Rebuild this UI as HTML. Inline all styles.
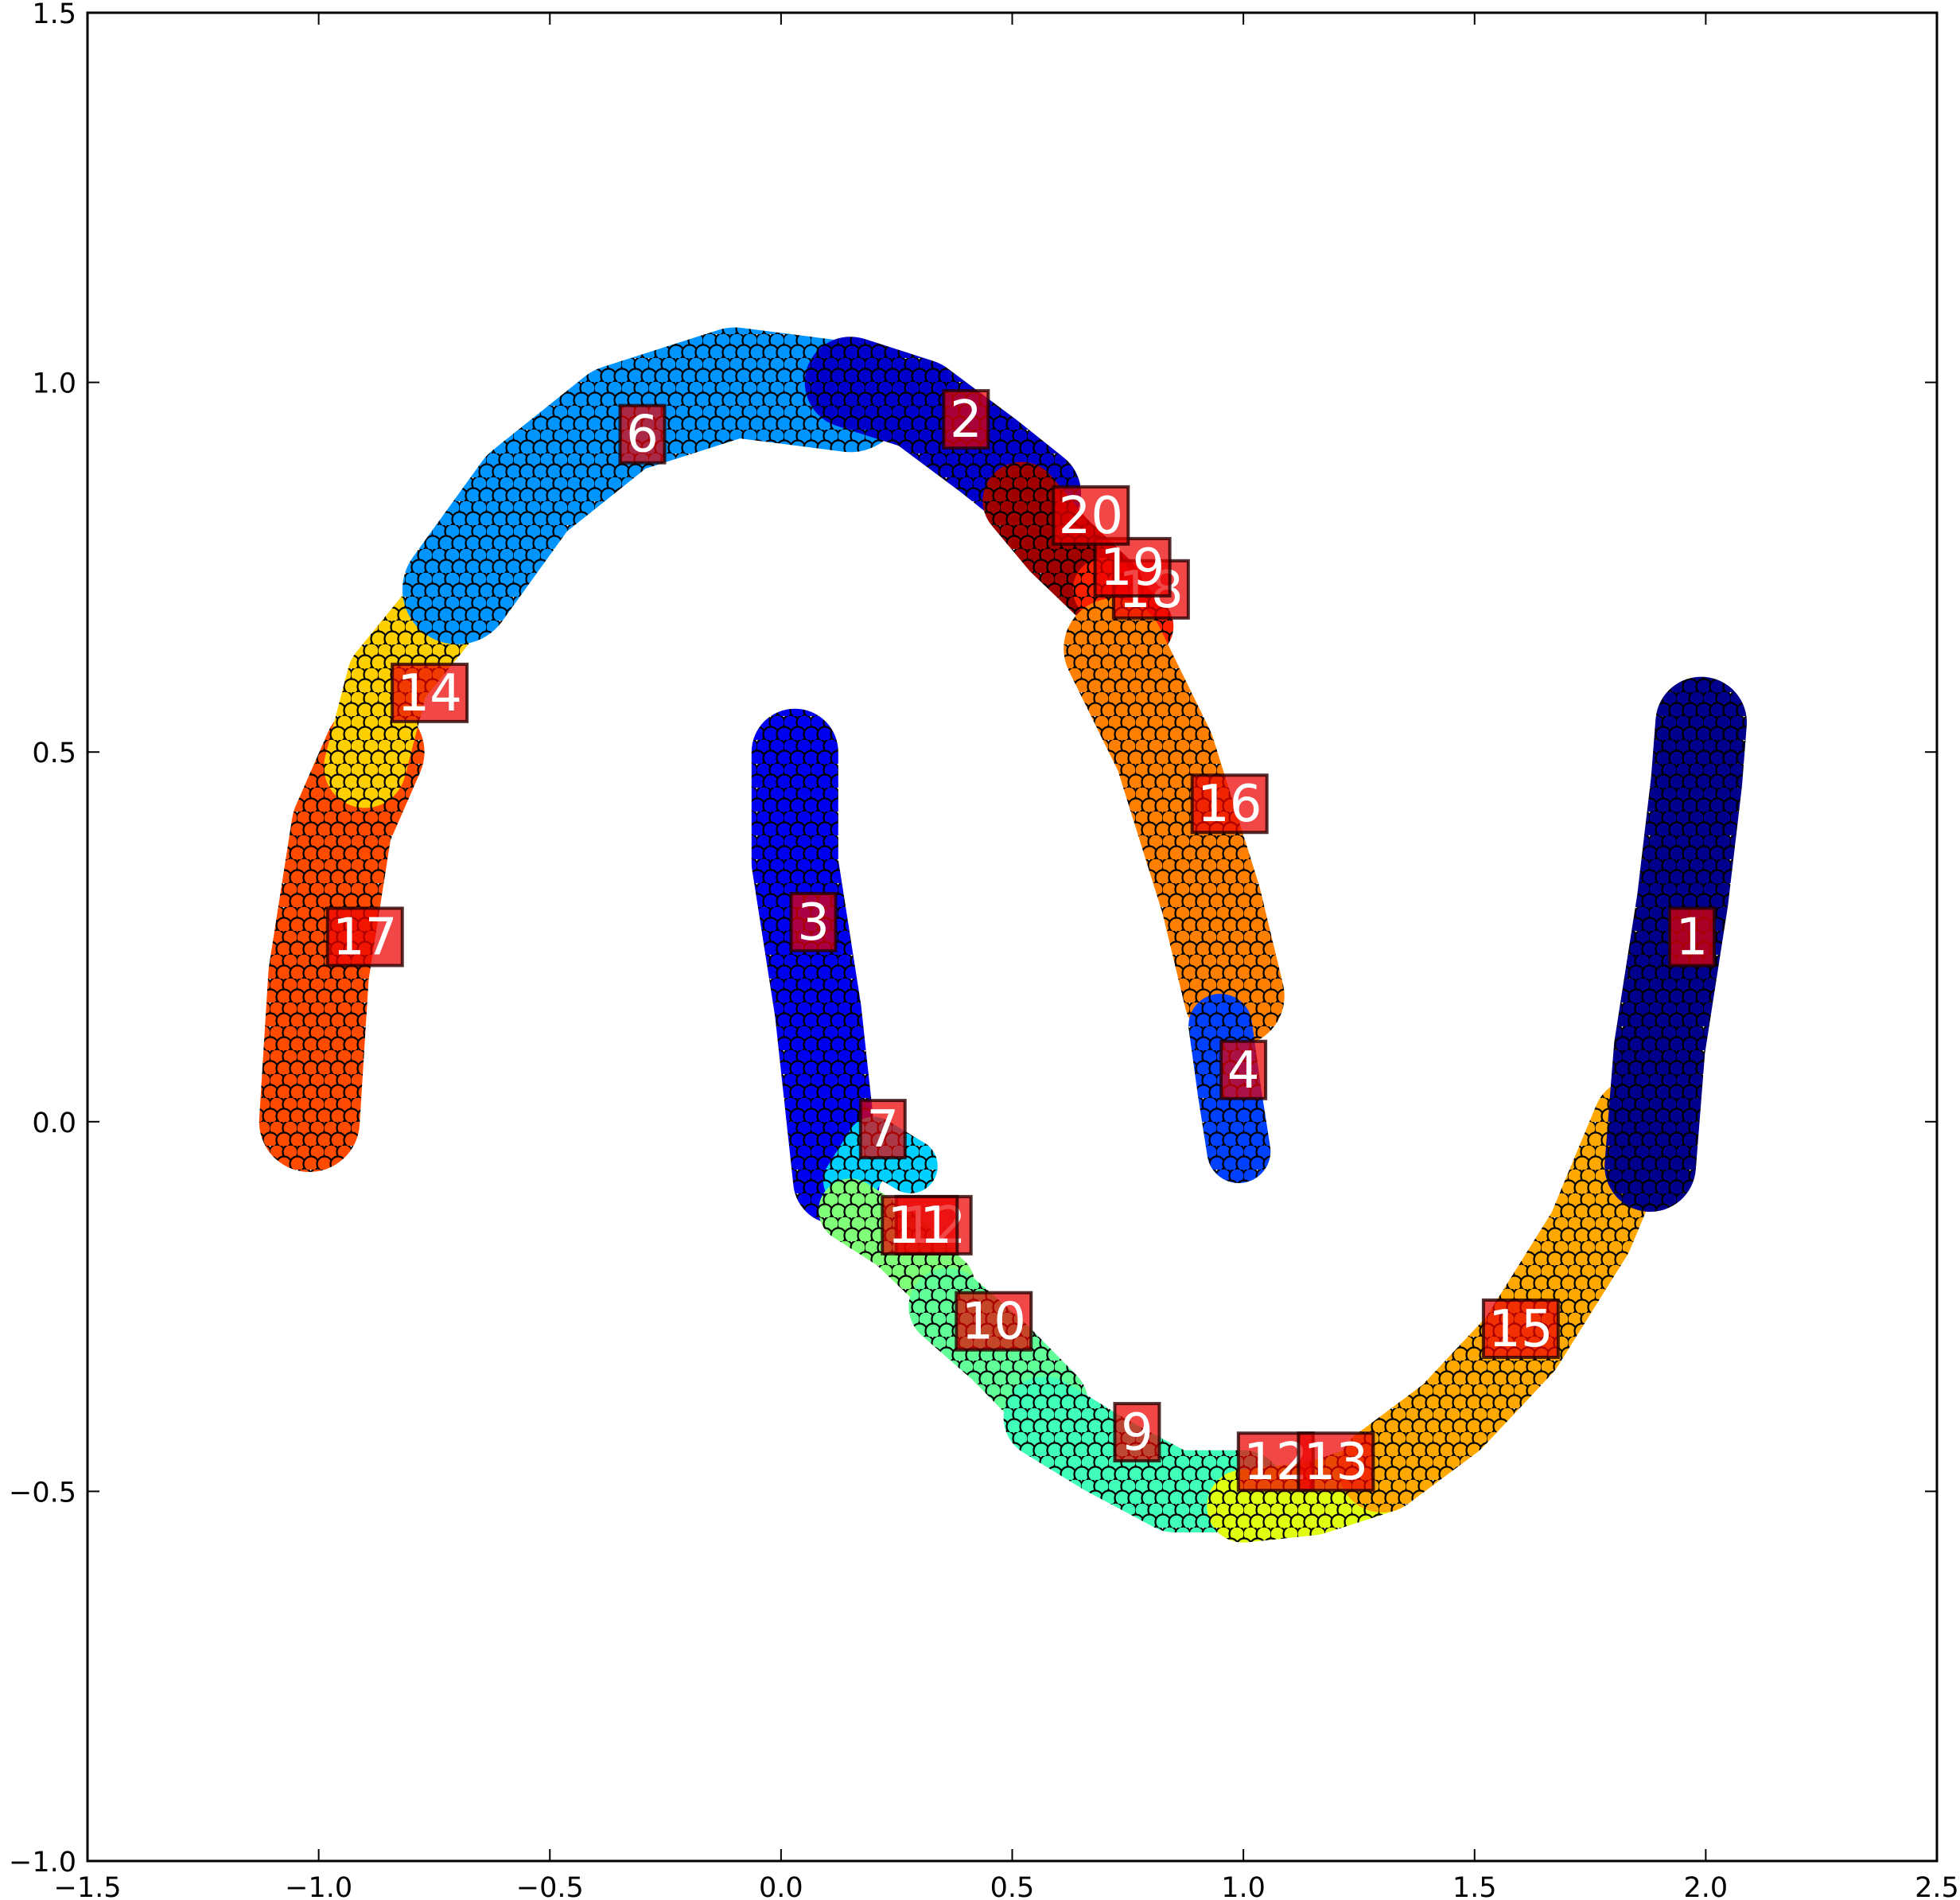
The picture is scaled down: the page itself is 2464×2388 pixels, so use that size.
<!DOCTYPE html>
<html><head><meta charset="utf-8"><style>
html,body{margin:0;padding:0;background:#fff}
svg{display:block}
text{font-family:"DejaVu Sans","Liberation Sans",sans-serif}
</style></head><body>
<svg id="chart" width="2464" height="2388" viewBox="0 0 2464 2388" xmlns="http://www.w3.org/2000/svg">
<defs id="defs"></defs>
<rect x="0" y="0" width="2464" height="2388" fill="#fff"/>
<g id="bands"></g>
<g id="labels"></g>
<rect x="110" y="16" width="2325" height="2323" fill="none" stroke="#000" stroke-width="3"/>
<g id="ticks"></g>
</svg>
<script>
const xTicks=[-1.5,-1.0,-0.5,0.0,0.5,1.0,1.5,2.0,2.5];
const yTicks=[-1.0,-0.5,0.0,0.5,1.0,1.5];
const clusterIds=["17","14","6","2","20","18","16","4","3","7","11","10","9","13","15","1"];
const clusterColors=["#ff4a00","#ffd000","#0094ff","#0000cc","#a00000","#ff2000","#ff8000","#0040ff","#0000f0","#00d0ff","#80ff78","#60ff98","#40ffb8","#e0ff10","#ffa800","#00008c"];
const clusterWidths=[0.19,0.15,0.21,0.17,0.14,0.11,0.19,0.11,0.16,0.09,0.11,0.14,0.15,0.13,0.16,0.17];
const clusterPaths=[
[[-1.02,0.0],[-1.0,0.2],[-0.95,0.4],[-0.88,0.5]],
[[-0.9,0.48],[-0.85,0.6],[-0.72,0.7]],
[[-0.7,0.72],[-0.55,0.85],[-0.35,0.95],[-0.1,1.0],[0.15,0.98]],
[[0.15,1.0],[0.3,0.97],[0.45,0.9],[0.55,0.85]],
[[0.52,0.84],[0.6,0.78],[0.7,0.72]],
[[0.7,0.72],[0.78,0.67]],
[[0.72,0.64],[0.83,0.5],[0.93,0.3],[0.98,0.17]],
[[0.95,0.13],[0.97,0.04],[0.99,-0.04]],
[[0.12,-0.08],[0.08,0.15],[0.03,0.35],[0.03,0.5]],
[[0.15,-0.08],[0.2,-0.03],[0.28,-0.06]],
[[0.35,-0.22],[0.25,-0.16],[0.15,-0.12]],
[[0.58,-0.38],[0.47,-0.31],[0.36,-0.25]],
[[1.0,-0.5],[0.85,-0.5],[0.7,-0.45],[0.57,-0.4]],
[[1.3,-0.48],[1.15,-0.51],[1.0,-0.52]],
[[1.85,0.0],[1.75,-0.15],[1.6,-0.3],[1.45,-0.4],[1.3,-0.47]],
[[1.88,-0.06],[1.9,0.1],[1.95,0.3],[1.98,0.46],[1.99,0.54]]
];
const labelTexts=["6","2","18","19","20","14","16","17","3","1","4","7","12","11","10","15","9","12","13"];
const labelX=[-0.3,0.4,0.8,0.76,0.67,-0.76,0.97,-0.9,0.07,1.97,1.0,0.22,0.33,0.3,0.46,1.6,0.77,1.07,1.2];
const labelY=[0.93,0.95,0.72,0.75,0.82,0.58,0.43,0.25,0.27,0.25,0.07,-0.01,-0.14,-0.14,-0.27,-0.28,-0.42,-0.46,-0.46];

const NS="http://www.w3.org/2000/svg";
const X=v=>110+(v+1.5)*581.25;
const Y=v=>2339-(v+1)*929.2;
const defs=document.getElementById('defs');
const bands=document.getElementById('bands');
const labels=document.getElementById('labels');
const ticks=document.getElementById('ticks');

clusterIds.forEach((id,i)=>{
  const pat=document.createElementNS(NS,'pattern');
  pat.setAttribute('id','pat'+i);
  pat.setAttribute('patternUnits','userSpaceOnUse');
  pat.setAttribute('width','34');pat.setAttribute('height','30');
  [[8,8],[25,8],[0,23],[17,23],[34,23]].forEach(c=>{
    const ci=document.createElementNS(NS,'circle');
    ci.setAttribute('cx',c[0]);ci.setAttribute('cy',c[1]);ci.setAttribute('r','9.5');
    ci.setAttribute('fill',clusterColors[i]);ci.setAttribute('stroke','#000');ci.setAttribute('stroke-width','2.2');
    pat.appendChild(ci);
  });
  defs.appendChild(pat);
  const d=clusterPaths[i].map((p,k)=>(k?'L':'M')+X(p[0]).toFixed(1)+' '+Y(p[1]).toFixed(1)).join(' ');
  const w=clusterWidths[i]*581.25;
  const base=document.createElementNS(NS,'path');
  base.setAttribute('d',d);base.setAttribute('fill','none');
  base.setAttribute('stroke',clusterColors[i]);base.setAttribute('stroke-width',w.toFixed(1));
  base.setAttribute('stroke-linecap','round');base.setAttribute('stroke-linejoin','round');
  
  
  bands.appendChild(base);
  const tex=document.createElementNS(NS,'path');
  tex.setAttribute('d',d);tex.setAttribute('fill','none');
  tex.setAttribute('stroke','url(#pat'+i+')');tex.setAttribute('stroke-width',(w+16).toFixed(1));
  tex.setAttribute('stroke-linecap','round');tex.setAttribute('stroke-linejoin','round');
  
  
  bands.appendChild(tex);
});

labelTexts.forEach((t,i)=>{
  const g=document.createElementNS(NS,'g');
  
  
  const w=t.length*38+18, h=72;
  const cx=X(labelX[i]), cy=Y(labelY[i]);
  const r=document.createElementNS(NS,'rect');
  r.setAttribute('x',cx-w/2);r.setAttribute('y',cy-h/2);r.setAttribute('width',w);r.setAttribute('height',h);
  r.setAttribute('fill','rgba(235,0,0,0.72)');r.setAttribute('stroke','rgba(40,0,0,0.8)');r.setAttribute('stroke-width','4');
  g.appendChild(r);
  const tx=document.createElementNS(NS,'text');
  tx.setAttribute('x',cx);tx.setAttribute('y',cy+22);tx.setAttribute('text-anchor','middle');
  tx.setAttribute('font-size','64');tx.setAttribute('fill','#fff');
  tx.textContent=t;
  g.appendChild(tx);
  labels.appendChild(g);
});

xTicks.forEach(v=>{
  const x=X(v);
  [[2339,2324],[16,31]].forEach(p=>{
    const l=document.createElementNS(NS,'line');
    l.setAttribute('x1',x);l.setAttribute('x2',x);l.setAttribute('y1',p[0]);l.setAttribute('y2',p[1]);
    l.setAttribute('stroke','#000');l.setAttribute('stroke-width','2');
    
    
    ticks.appendChild(l);
  });
  const t=document.createElementNS(NS,'text');
  t.setAttribute('x',x);t.setAttribute('y',2384);t.setAttribute('text-anchor','middle');t.setAttribute('font-size','35');
  t.textContent=(v<0?'\u2212':'')+Math.abs(v).toFixed(1);
  
  
  ticks.appendChild(t);
});
yTicks.forEach(v=>{
  const y=Y(v);
  [[110,125],[2435,2420]].forEach(p=>{
    const l=document.createElementNS(NS,'line');
    l.setAttribute('x1',p[0]);l.setAttribute('x2',p[1]);l.setAttribute('y1',y);l.setAttribute('y2',y);
    l.setAttribute('stroke','#000');l.setAttribute('stroke-width','2');
    
    
    ticks.appendChild(l);
  });
  const t=document.createElementNS(NS,'text');
  t.setAttribute('x',96);t.setAttribute('y',y+13);t.setAttribute('text-anchor','end');t.setAttribute('font-size','35');
  t.textContent=(v<0?'\u2212':'')+Math.abs(v).toFixed(1);
  
  
  ticks.appendChild(t);
});
</script>
</body></html>
